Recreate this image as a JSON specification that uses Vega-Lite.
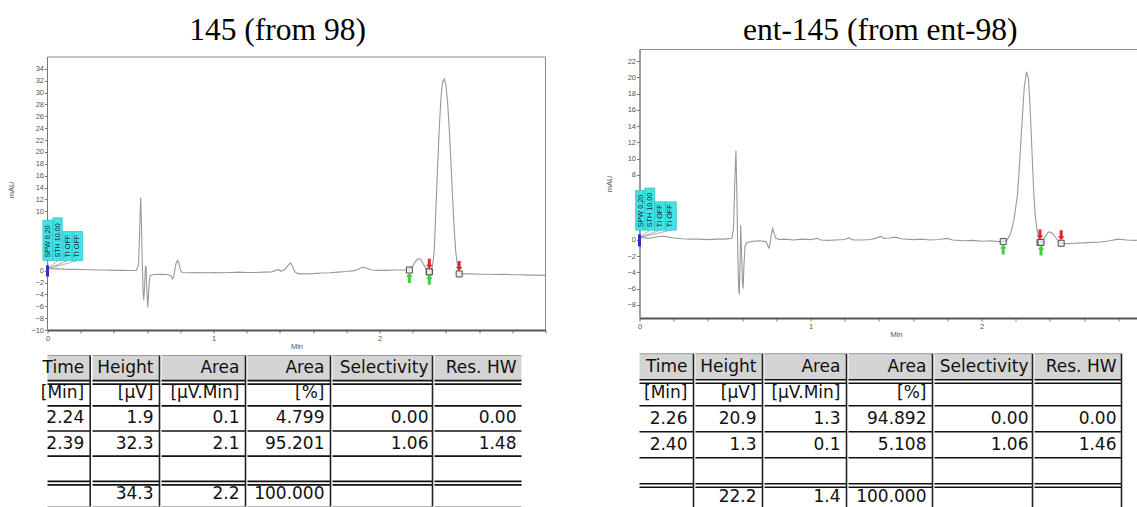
{
"$schema": "https://vega.github.io/schema/vega-lite/v6.json",
"background": "white",
"padding": {"left": 6.5, "top": 14, "right": 0, "bottom": 0},
"config": {
 "view": {"stroke": null},
 "font": "Liberation Sans",
 "axis": {"grid": false, "labelFont": "Liberation Sans", "labelFontSize": 7.5, "labelColor": "#555555", "tickColor": "#777777", "tickSize": 3, "tickWidth": 1, "domainColor": "#777777", "titleFont": "Liberation Sans", "titleFontSize": 7.5, "titleFontWeight": "normal", "titleColor": "#555555", "labelPadding": 1, "labelOverlap": false, "labelFlush": false},
 "axisX": {"domainWidth": 2, "domainColor": "#555555"}
},
"datasets": {
 "chrom1": [
{"t":0,"mAU":0.45},{"t":0.01,"mAU":0.35},{"t":0.03,"mAU":0.3},{"t":0.06,"mAU":0.3},{"t":0.1,"mAU":0.25},{"t":0.15,"mAU":0.22},{"t":0.2,"mAU":0.2},{"t":0.25,"mAU":0.15},{"t":0.3,"mAU":0.12},{"t":0.35,"mAU":0.1},{"t":0.4,"mAU":0.05},{"t":0.45,"mAU":0.05},{"t":0.5,"mAU":0.02},{"t":0.535,"mAU":0.05},
{"t":0.548,"mAU":1.0},{"t":0.555,"mAU":6.5},{"t":0.561,"mAU":12.3},{"t":0.566,"mAU":8.0},{"t":0.571,"mAU":1.0},{"t":0.576,"mAU":-3.5},{"t":0.58,"mAU":-5.0},{"t":0.585,"mAU":-2.5},{"t":0.59,"mAU":0.8},{"t":0.594,"mAU":0.5},{"t":0.598,"mAU":-3.0},{"t":0.604,"mAU":-6.2},{"t":0.609,"mAU":-4.0},{"t":0.614,"mAU":-1.5},{"t":0.62,"mAU":-0.8},
{"t":0.64,"mAU":-0.65},{"t":0.68,"mAU":-0.6},{"t":0.72,"mAU":-0.65},{"t":0.745,"mAU":-0.9},{"t":0.752,"mAU":-1.4},{"t":0.76,"mAU":-1.1},{"t":0.768,"mAU":0.3},{"t":0.776,"mAU":1.4},{"t":0.784,"mAU":1.7},{"t":0.792,"mAU":1.2},{"t":0.8,"mAU":0.2},{"t":0.81,"mAU":-0.3},
{"t":0.85,"mAU":-0.35},{"t":0.9,"mAU":-0.3},{"t":0.95,"mAU":-0.35},{"t":1.0,"mAU":-0.3},{"t":1.05,"mAU":-0.35},{"t":1.1,"mAU":-0.3},{"t":1.15,"mAU":-0.25},{"t":1.2,"mAU":-0.3},{"t":1.25,"mAU":-0.3},{"t":1.3,"mAU":-0.25},{"t":1.35,"mAU":-0.2},{"t":1.39,"mAU":0.2},{"t":1.405,"mAU":-0.1},{"t":1.43,"mAU":0.2},{"t":1.45,"mAU":0.9},{"t":1.463,"mAU":1.3},{"t":1.475,"mAU":0.8},{"t":1.49,"mAU":-0.2},{"t":1.51,"mAU":-0.5},{"t":1.55,"mAU":-0.55},{"t":1.6,"mAU":-0.5},{"t":1.65,"mAU":-0.4},{"t":1.7,"mAU":-0.35},{"t":1.75,"mAU":-0.25},{"t":1.8,"mAU":-0.15},{"t":1.85,"mAU":0.0},{"t":1.88,"mAU":0.35},{"t":1.9,"mAU":0.6},{"t":1.92,"mAU":0.45},{"t":1.95,"mAU":0.1},{"t":2.0,"mAU":0.05},{"t":2.05,"mAU":0.05},{"t":2.1,"mAU":0.1},{"t":2.15,"mAU":0.1},{"t":2.18,"mAU":0.15},
{"t":2.2,"mAU":0.7},{"t":2.215,"mAU":1.5},{"t":2.23,"mAU":1.95},{"t":2.24,"mAU":2.0},{"t":2.255,"mAU":1.6},{"t":2.27,"mAU":0.8},{"t":2.285,"mAU":0.1},{"t":2.3,"mAU":-0.2},
{"t":2.31,"mAU":0.1},{"t":2.32,"mAU":0.8},{"t":2.33,"mAU":3.5},{"t":2.34,"mAU":10.5},{"t":2.35,"mAU":17.5},{"t":2.36,"mAU":24.0},{"t":2.37,"mAU":29.0},{"t":2.38,"mAU":31.8},{"t":2.39,"mAU":32.3},{"t":2.4,"mAU":31.3},{"t":2.41,"mAU":28.5},{"t":2.42,"mAU":24.0},{"t":2.43,"mAU":18.5},{"t":2.44,"mAU":12.5},{"t":2.45,"mAU":7.0},{"t":2.46,"mAU":3.0},{"t":2.47,"mAU":0.8},{"t":2.48,"mAU":-0.3},{"t":2.5,"mAU":-0.55},{"t":2.55,"mAU":-0.55},{"t":2.6,"mAU":-0.6},{"t":2.65,"mAU":-0.6},{"t":2.7,"mAU":-0.65},{"t":2.75,"mAU":-0.6},{"t":2.8,"mAU":-0.7},{"t":2.85,"mAU":-0.7},{"t":2.9,"mAU":-0.75},{"t":2.95,"mAU":-0.75},{"t":3.0,"mAU":-0.8}
 ],
 "chrom2": [
{"t":0,"mAU":0.2},{"t":0.02,"mAU":0.3},{"t":0.05,"mAU":0.2},{"t":0.08,"mAU":0.3},{"t":0.11,"mAU":0.4},{"t":0.14,"mAU":0.45},{"t":0.17,"mAU":0.35},{"t":0.2,"mAU":0.25},{"t":0.25,"mAU":0.15},{"t":0.3,"mAU":0.1},{"t":0.35,"mAU":0.1},{"t":0.4,"mAU":0.05},{"t":0.45,"mAU":0.1},{"t":0.5,"mAU":0.1},{"t":0.54,"mAU":0.2},
{"t":0.55,"mAU":1.5},{"t":0.557,"mAU":7.0},{"t":0.564,"mAU":11.0},{"t":0.57,"mAU":5.0},{"t":0.575,"mAU":-2.0},{"t":0.58,"mAU":-6.0},{"t":0.584,"mAU":-6.7},{"t":0.588,"mAU":-3.0},{"t":0.592,"mAU":1.8},{"t":0.596,"mAU":-1.0},{"t":0.602,"mAU":-5.0},{"t":0.606,"mAU":-6.0},{"t":0.611,"mAU":-3.0},{"t":0.617,"mAU":-0.8},{"t":0.625,"mAU":-0.4},
{"t":0.65,"mAU":-0.2},{"t":0.7,"mAU":-0.1},{"t":0.74,"mAU":-0.2},{"t":0.75,"mAU":-0.7},{"t":0.757,"mAU":-1.0},{"t":0.765,"mAU":-0.3},{"t":0.772,"mAU":0.9},{"t":0.779,"mAU":1.4},{"t":0.787,"mAU":0.8},{"t":0.797,"mAU":0.2},{"t":0.82,"mAU":0.05},
{"t":0.85,"mAU":0.1},{"t":0.9,"mAU":0.0},{"t":0.95,"mAU":0.1},{"t":1.0,"mAU":0.05},{"t":1.04,"mAU":0.2},{"t":1.06,"mAU":0.0},{"t":1.1,"mAU":-0.05},{"t":1.15,"mAU":0.0},{"t":1.2,"mAU":0.05},{"t":1.224,"mAU":0.25},{"t":1.25,"mAU":0.0},{"t":1.3,"mAU":0.0},{"t":1.35,"mAU":0.05},{"t":1.38,"mAU":0.2},{"t":1.41,"mAU":0.45},{"t":1.43,"mAU":0.2},{"t":1.46,"mAU":0.25},{"t":1.497,"mAU":0.35},{"t":1.53,"mAU":0.15},{"t":1.6,"mAU":0.05},{"t":1.65,"mAU":0.1},{"t":1.7,"mAU":0.0},{"t":1.75,"mAU":0.05},{"t":1.8,"mAU":0.2},{"t":1.83,"mAU":0.0},{"t":1.9,"mAU":-0.1},{"t":1.95,"mAU":-0.05},{"t":2.0,"mAU":-0.15},{"t":2.05,"mAU":-0.1},{"t":2.1,"mAU":-0.2},{"t":2.127,"mAU":-0.2},
{"t":2.15,"mAU":0.0},{"t":2.17,"mAU":0.8},{"t":2.19,"mAU":2.5},{"t":2.21,"mAU":5.5},{"t":2.22,"mAU":8.5},{"t":2.23,"mAU":12.0},{"t":2.24,"mAU":15.5},{"t":2.25,"mAU":18.8},{"t":2.263,"mAU":20.7},{"t":2.275,"mAU":19.8},{"t":2.285,"mAU":16.0},{"t":2.295,"mAU":11.0},{"t":2.305,"mAU":6.0},{"t":2.315,"mAU":2.8},{"t":2.325,"mAU":1.2},{"t":2.335,"mAU":0.3},{"t":2.345,"mAU":-0.3},
{"t":2.36,"mAU":0.0},{"t":2.375,"mAU":0.5},{"t":2.39,"mAU":0.95},{"t":2.4,"mAU":1.0},{"t":2.415,"mAU":0.8},{"t":2.43,"mAU":0.4},{"t":2.445,"mAU":0.0},{"t":2.466,"mAU":-0.4},{"t":2.5,"mAU":-0.45},{"t":2.55,"mAU":-0.4},{"t":2.6,"mAU":-0.35},{"t":2.65,"mAU":-0.3},{"t":2.7,"mAU":-0.25},{"t":2.75,"mAU":-0.1},{"t":2.8,"mAU":0.1},{"t":2.85,"mAU":0.0},{"t":2.9,"mAU":-0.05},{"t":2.95,"mAU":0.0},{"t":3.0,"mAU":-0.1}
 ],
 "events1": [
  {"label":"SPW 0.20","t0":-0.028,"t1":0.032,"v0":1.7,"v1":8.5},
  {"label":"STH 10.00","t0":0.032,"t1":0.089,"v0":1.7,"v1":8.9},
  {"label":"TI OFF","t0":0.092,"t1":0.148,"v0":1.7,"v1":6.6},
  {"label":"TI OFF","t0":0.15,"t1":0.212,"v0":1.7,"v1":6.6}
 ],
 "events2": [
  {"label":"SPW 0.20","t0":-0.023,"t1":0.031,"v0":1.2,"v1":6.1},
  {"label":"STH 10.00","t0":0.031,"t1":0.089,"v0":1.2,"v1":6.4},
  {"label":"TI OFF","t0":0.089,"t1":0.152,"v0":1.2,"v1":4.7},
  {"label":"TI OFF","t0":0.152,"t1":0.216,"v0":1.2,"v1":4.7}
 ],
 "marks1": [
  {"t":2.18,"mAU":0.1,"kind":"start"},{"t":2.3,"mAU":-0.2,"kind":"end"},{"t":2.3,"mAU":-0.2,"kind":"start"},{"t":2.48,"mAU":-0.55,"kind":"end"}
 ],
 "marks2": [
  {"t":2.127,"mAU":-0.2,"kind":"start"},{"t":2.342,"mAU":-0.3,"kind":"end"},{"t":2.348,"mAU":-0.3,"kind":"start"},{"t":2.466,"mAU":-0.4,"kind":"end"}
 ],
 "table1": [
  {"row":"h","time":"Time","height":"Height","area":"Area","areaPct":"Area","sel":"Selectivity","res":"Res. HW"},
  {"row":"u","time":"[Min]","height":"[µV]","area":"[µV.Min]","areaPct":"[%]","sel":"","res":""},
  {"row":"1","time":"2.24","height":"1.9","area":"0.1","areaPct":"4.799","sel":"0.00","res":"0.00"},
  {"row":"2","time":"2.39","height":"32.3","area":"2.1","areaPct":"95.201","sel":"1.06","res":"1.48"},
  {"row":"b","time":"","height":"","area":"","areaPct":"","sel":"","res":""},
  {"row":"t","time":"","height":"34.3","area":"2.2","areaPct":"100.000","sel":"","res":""}
 ],
 "table2": [
  {"row":"h","time":"Time","height":"Height","area":"Area","areaPct":"Area","sel":"Selectivity","res":"Res. HW"},
  {"row":"u","time":"[Min]","height":"[µV]","area":"[µV.Min]","areaPct":"[%]","sel":"","res":""},
  {"row":"1","time":"2.26","height":"20.9","area":"1.3","areaPct":"94.892","sel":"0.00","res":"0.00"},
  {"row":"2","time":"2.40","height":"1.3","area":"0.1","areaPct":"5.108","sel":"1.06","res":"1.46"},
  {"row":"b","time":"","height":"","area":"","areaPct":"","sel":"","res":""},
  {"row":"t","time":"","height":"22.2","area":"1.4","areaPct":"100.000","sel":"","res":""}
 ]
},
"concat": [
 {"vconcat": [
  {"width": 498, "height": 281,
   "title": {"text": "145 (from 98)", "font": "Liberation Serif", "fontSize": 31.5, "fontWeight": "normal", "color": "#000000", "anchor": "middle", "frame": "bounds", "offset": 3},
   "resolve": {"axis": {"x": "independent", "y": "independent"}},
   "layer": [
    {"data": {"name": "chrom1"}, "mark": {"type": "line", "color": "#999999", "strokeWidth": 1.1},
     "encoding": {
      "x": {"field": "t", "type": "quantitative", "title": "Min", "scale": {"domain": [0, 3], "nice": false, "zero": false},
            "axis": {"values": [0,0.2,0.4,0.6,0.8,1,1.2,1.4,1.6,1.8,2,2.2,2.4,2.6,2.8,3], "labelExpr": "(datum.value === 0 || datum.value === 1 || datum.value === 2) ? '' + datum.value : ''", "titlePadding": 1, "labelOverlap": false}},
      "y": {"field": "mAU", "type": "quantitative", "title": "mAU", "scale": {"domain": [-10, 37.35], "nice": false, "zero": false},
            "axis": {"values": [-10,-8,-6,-4,-2,0,10,12,14,16,18,20,22,24,26,28,30,32,34], "titlePadding": 15.3, "labelOverlap": false, "domain": false}}
     }},
    {"data": {"name": "events1"}, "transform": [{"filter": "datum.label === 'SPW 0.20'"}], "mark": {"type": "rule", "color": "#8c8c8c", "strokeWidth": 1},
     "encoding": {"y": {"datum": 36, "axis": null}}},
    {"data": {"name": "events1"}, "transform": [{"filter": "datum.label === 'SPW 0.20'"}], "mark": {"type": "rule", "color": "#8c8c8c", "strokeWidth": 1},
     "encoding": {"x": {"datum": 3, "axis": null}, "y": {"datum": -10, "axis": null}, "y2": {"datum": 36}}},
    {"data": {"name": "events1"}, "transform": [{"filter": "datum.label === 'SPW 0.20'"}], "mark": {"type": "rule", "color": "#777777", "strokeWidth": 1},
     "encoding": {"x": {"datum": 0, "axis": null}, "y": {"datum": -10, "axis": null}, "y2": {"datum": 36}}},
    {"data": {"name": "events1"}, "mark": {"type": "rule", "color": "#9a9a9a", "strokeWidth": 0.8, "xOffset": 5},
     "encoding": {"x": {"field": "t0", "type": "quantitative", "axis": null}, "x2": {"datum": 0}, "y": {"field": "v0", "type": "quantitative", "axis": null}, "y2": {"datum": 0.3}}},
    {"data": {"name": "events1"}, "mark": {"type": "rect", "fill": "#40e4e4", "stroke": "#22b8b8", "strokeWidth": 0.6},
     "encoding": {"x": {"field": "t0", "type": "quantitative", "axis": null}, "x2": {"field": "t1"}, "y": {"field": "v0", "type": "quantitative", "axis": null}, "y2": {"field": "v1"}}},
    {"data": {"name": "events1"}, "mark": {"type": "text", "angle": 270, "align": "left", "baseline": "middle", "dx": 3, "dy": 5, "fontSize": 7.2, "font": "Liberation Sans", "color": "#122a44"},
     "encoding": {"x": {"field": "t0", "type": "quantitative", "axis": null}, "y": {"field": "v0", "type": "quantitative", "axis": null}, "text": {"field": "label"}}},
    {"data": {"name": "events1"}, "transform": [{"filter": "datum.label === 'SPW 0.20'"}], "mark": {"type": "rule", "color": "#2236c0", "strokeWidth": 3},
     "encoding": {"x": {"datum": 0, "axis": null}, "y": {"datum": -1.0, "axis": null}, "y2": {"datum": 0.9}}},
    {"data": {"name": "marks1"}, "mark": {"type": "point", "shape": "square", "size": 36, "filled": true, "fill": "#eeeeee", "fillOpacity": 0.7, "stroke": "#4a4a4a", "strokeWidth": 1, "opacity": 1},
     "encoding": {"x": {"field": "t", "type": "quantitative", "axis": null}, "y": {"field": "mAU", "type": "quantitative", "axis": null}}},
    {"data": {"name": "marks1"}, "transform": [{"filter": "datum.kind === 'end'"}], "mark": {"type": "point", "shape": "M-0.3,-1L0.3,-1L0.3,0.2L0.65,0.2L0,1L-0.65,0.2L-0.3,0.2Z", "size": 100, "filled": true, "color": "#e3222b", "opacity": 1, "strokeWidth": 0, "yOffset": -8},
     "encoding": {"x": {"field": "t", "type": "quantitative", "axis": null}, "y": {"field": "mAU", "type": "quantitative", "axis": null}}},
    {"data": {"name": "marks1"}, "transform": [{"filter": "datum.kind === 'start'"}], "mark": {"type": "point", "shape": "M-0.3,1L0.3,1L0.3,-0.2L0.65,-0.2L0,-1L-0.65,-0.2L-0.3,-0.2Z", "size": 100, "filled": true, "color": "#3bd13b", "opacity": 1, "strokeWidth": 0, "yOffset": 8},
     "encoding": {"x": {"field": "t", "type": "quantitative", "axis": null}, "y": {"field": "mAU", "type": "quantitative", "axis": null}}}
   ]},
  {"hconcat": [
   {"width": 42.7, "height": 151, "data": {"name": "table1"}, "layer": [
    {"transform":[{"filter":"datum.row === 'h'"}],"mark":{"type":"rect","color":"#d4d4d4"},"encoding":{"y":{"field":"row","type":"ordinal","scale":{"domain":["h","u","1","2","b","t"],"paddingInner":0,"paddingOuter":0},"axis":null}}},
    {"transform":[{"filter":"datum.row !== 'h'"}],"mark":{"type":"rule","color":"#111111","strokeWidth":1.6},"encoding":{"y":{"field":"row","type":"ordinal","bandPosition":0,"axis":null}}},
    {"transform":[{"filter":"datum.row === 'u' || datum.row === 't'"}],"mark":{"type":"rule","color":"#111111","strokeWidth":1.6,"yOffset":3.5},"encoding":{"y":{"field":"row","type":"ordinal","bandPosition":0,"axis":null}}},
    {"transform":[{"filter":"datum.row === 'h'"}],"mark":{"type":"rule","color":"#9a9a9a","strokeWidth":1},"encoding":{"y":{"field":"row","type":"ordinal","bandPosition":0,"axis":null}}},
    {"transform":[{"filter":"datum.row === 't'"}],"mark":{"type":"rule","color":"#b0b0b0","strokeWidth":1},"encoding":{"y":{"field":"row","type":"ordinal","bandPosition":1,"axis":null}}},
    {"transform":[{"filter":"datum.row === 'h'"}],"mark":{"type":"rule","color":"#222222","strokeWidth":1.6},"encoding":{"x":{"datum":1,"type":"quantitative","scale":{"domain":[0,1]},"axis":null}}},
    {"mark":{"type":"text","align":"right","baseline":"middle","dx":-6,"fontSize":17,"font":"DejaVu Sans","color":"#111111"},"encoding":{"y":{"field":"row","type":"ordinal","axis":null},"x":{"datum":1,"type":"quantitative","scale":{"domain":[0,1]},"axis":null},"text":{"field":"time"}}}
   ]},
   {"width": 67, "height": 151, "data": {"name": "table1"}, "layer": [
    {"transform":[{"filter":"datum.row === 'h'"}],"mark":{"type":"rect","color":"#d4d4d4"},"encoding":{"y":{"field":"row","type":"ordinal","scale":{"domain":["h","u","1","2","b","t"],"paddingInner":0,"paddingOuter":0},"axis":null}}},
    {"transform":[{"filter":"datum.row !== 'h'"}],"mark":{"type":"rule","color":"#111111","strokeWidth":1.6},"encoding":{"y":{"field":"row","type":"ordinal","bandPosition":0,"axis":null}}},
    {"transform":[{"filter":"datum.row === 'u' || datum.row === 't'"}],"mark":{"type":"rule","color":"#111111","strokeWidth":1.6,"yOffset":3.5},"encoding":{"y":{"field":"row","type":"ordinal","bandPosition":0,"axis":null}}},
    {"transform":[{"filter":"datum.row === 'h'"}],"mark":{"type":"rule","color":"#9a9a9a","strokeWidth":1},"encoding":{"y":{"field":"row","type":"ordinal","bandPosition":0,"axis":null}}},
    {"transform":[{"filter":"datum.row === 't'"}],"mark":{"type":"rule","color":"#b0b0b0","strokeWidth":1},"encoding":{"y":{"field":"row","type":"ordinal","bandPosition":1,"axis":null}}},
    {"transform":[{"filter":"datum.row === 'h'"}],"mark":{"type":"rule","color":"#222222","strokeWidth":1.6},"encoding":{"x":{"datum":1,"type":"quantitative","scale":{"domain":[0,1]},"axis":null}}},
    {"mark":{"type":"text","align":"right","baseline":"middle","dx":-6,"fontSize":17,"font":"DejaVu Sans","color":"#111111"},"encoding":{"y":{"field":"row","type":"ordinal","axis":null},"x":{"datum":1,"type":"quantitative","scale":{"domain":[0,1]},"axis":null},"text":{"field":"height"}}}
   ]},
   {"width": 84, "height": 151, "data": {"name": "table1"}, "layer": [
    {"transform":[{"filter":"datum.row === 'h'"}],"mark":{"type":"rect","color":"#d4d4d4"},"encoding":{"y":{"field":"row","type":"ordinal","scale":{"domain":["h","u","1","2","b","t"],"paddingInner":0,"paddingOuter":0},"axis":null}}},
    {"transform":[{"filter":"datum.row !== 'h'"}],"mark":{"type":"rule","color":"#111111","strokeWidth":1.6},"encoding":{"y":{"field":"row","type":"ordinal","bandPosition":0,"axis":null}}},
    {"transform":[{"filter":"datum.row === 'u' || datum.row === 't'"}],"mark":{"type":"rule","color":"#111111","strokeWidth":1.6,"yOffset":3.5},"encoding":{"y":{"field":"row","type":"ordinal","bandPosition":0,"axis":null}}},
    {"transform":[{"filter":"datum.row === 'h'"}],"mark":{"type":"rule","color":"#9a9a9a","strokeWidth":1},"encoding":{"y":{"field":"row","type":"ordinal","bandPosition":0,"axis":null}}},
    {"transform":[{"filter":"datum.row === 't'"}],"mark":{"type":"rule","color":"#b0b0b0","strokeWidth":1},"encoding":{"y":{"field":"row","type":"ordinal","bandPosition":1,"axis":null}}},
    {"transform":[{"filter":"datum.row === 'h'"}],"mark":{"type":"rule","color":"#222222","strokeWidth":1.6},"encoding":{"x":{"datum":1,"type":"quantitative","scale":{"domain":[0,1]},"axis":null}}},
    {"mark":{"type":"text","align":"right","baseline":"middle","dx":-6,"fontSize":17,"font":"DejaVu Sans","color":"#111111"},"encoding":{"y":{"field":"row","type":"ordinal","axis":null},"x":{"datum":1,"type":"quantitative","scale":{"domain":[0,1]},"axis":null},"text":{"field":"area"}}}
   ]},
   {"width": 83, "height": 151, "data": {"name": "table1"}, "layer": [
    {"transform":[{"filter":"datum.row === 'h'"}],"mark":{"type":"rect","color":"#d4d4d4"},"encoding":{"y":{"field":"row","type":"ordinal","scale":{"domain":["h","u","1","2","b","t"],"paddingInner":0,"paddingOuter":0},"axis":null}}},
    {"transform":[{"filter":"datum.row !== 'h'"}],"mark":{"type":"rule","color":"#111111","strokeWidth":1.6},"encoding":{"y":{"field":"row","type":"ordinal","bandPosition":0,"axis":null}}},
    {"transform":[{"filter":"datum.row === 'u' || datum.row === 't'"}],"mark":{"type":"rule","color":"#111111","strokeWidth":1.6,"yOffset":3.5},"encoding":{"y":{"field":"row","type":"ordinal","bandPosition":0,"axis":null}}},
    {"transform":[{"filter":"datum.row === 'h'"}],"mark":{"type":"rule","color":"#9a9a9a","strokeWidth":1},"encoding":{"y":{"field":"row","type":"ordinal","bandPosition":0,"axis":null}}},
    {"transform":[{"filter":"datum.row === 't'"}],"mark":{"type":"rule","color":"#b0b0b0","strokeWidth":1},"encoding":{"y":{"field":"row","type":"ordinal","bandPosition":1,"axis":null}}},
    {"transform":[{"filter":"datum.row === 'h'"}],"mark":{"type":"rule","color":"#222222","strokeWidth":1.6},"encoding":{"x":{"datum":1,"type":"quantitative","scale":{"domain":[0,1]},"axis":null}}},
    {"mark":{"type":"text","align":"right","baseline":"middle","dx":-6,"fontSize":17,"font":"DejaVu Sans","color":"#111111"},"encoding":{"y":{"field":"row","type":"ordinal","axis":null},"x":{"datum":1,"type":"quantitative","scale":{"domain":[0,1]},"axis":null},"text":{"field":"areaPct"}}}
   ]},
   {"width": 100, "height": 151, "data": {"name": "table1"}, "layer": [
    {"transform":[{"filter":"datum.row === 'h'"}],"mark":{"type":"rect","color":"#d4d4d4"},"encoding":{"y":{"field":"row","type":"ordinal","scale":{"domain":["h","u","1","2","b","t"],"paddingInner":0,"paddingOuter":0},"axis":null}}},
    {"transform":[{"filter":"datum.row !== 'h'"}],"mark":{"type":"rule","color":"#111111","strokeWidth":1.6},"encoding":{"y":{"field":"row","type":"ordinal","bandPosition":0,"axis":null}}},
    {"transform":[{"filter":"datum.row === 'u' || datum.row === 't'"}],"mark":{"type":"rule","color":"#111111","strokeWidth":1.6,"yOffset":3.5},"encoding":{"y":{"field":"row","type":"ordinal","bandPosition":0,"axis":null}}},
    {"transform":[{"filter":"datum.row === 'h'"}],"mark":{"type":"rule","color":"#9a9a9a","strokeWidth":1},"encoding":{"y":{"field":"row","type":"ordinal","bandPosition":0,"axis":null}}},
    {"transform":[{"filter":"datum.row === 't'"}],"mark":{"type":"rule","color":"#b0b0b0","strokeWidth":1},"encoding":{"y":{"field":"row","type":"ordinal","bandPosition":1,"axis":null}}},
    {"transform":[{"filter":"datum.row === 'h'"}],"mark":{"type":"rule","color":"#222222","strokeWidth":1.6},"encoding":{"x":{"datum":1,"type":"quantitative","scale":{"domain":[0,1]},"axis":null}}},
    {"mark":{"type":"text","align":"right","baseline":"middle","dx":-4,"fontSize":17,"font":"DejaVu Sans","color":"#111111"},"encoding":{"y":{"field":"row","type":"ordinal","axis":null},"x":{"datum":1,"type":"quantitative","scale":{"domain":[0,1]},"axis":null},"text":{"field":"sel"}}}
   ]},
   {"width": 87, "height": 151, "data": {"name": "table1"}, "layer": [
    {"transform":[{"filter":"datum.row === 'h'"}],"mark":{"type":"rect","color":"#d4d4d4"},"encoding":{"y":{"field":"row","type":"ordinal","scale":{"domain":["h","u","1","2","b","t"],"paddingInner":0,"paddingOuter":0},"axis":null}}},
    {"transform":[{"filter":"datum.row !== 'h'"}],"mark":{"type":"rule","color":"#111111","strokeWidth":1.6},"encoding":{"y":{"field":"row","type":"ordinal","bandPosition":0,"axis":null}}},
    {"transform":[{"filter":"datum.row === 'u' || datum.row === 't'"}],"mark":{"type":"rule","color":"#111111","strokeWidth":1.6,"yOffset":3.5},"encoding":{"y":{"field":"row","type":"ordinal","bandPosition":0,"axis":null}}},
    {"transform":[{"filter":"datum.row === 'h'"}],"mark":{"type":"rule","color":"#9a9a9a","strokeWidth":1},"encoding":{"y":{"field":"row","type":"ordinal","bandPosition":0,"axis":null}}},
    {"transform":[{"filter":"datum.row === 't'"}],"mark":{"type":"rule","color":"#b0b0b0","strokeWidth":1},"encoding":{"y":{"field":"row","type":"ordinal","bandPosition":1,"axis":null}}},
    {"mark":{"type":"text","align":"right","baseline":"middle","dx":-5,"fontSize":17,"font":"DejaVu Sans","color":"#111111"},"encoding":{"y":{"field":"row","type":"ordinal","axis":null},"x":{"datum":1,"type":"quantitative","scale":{"domain":[0,1]},"axis":null},"text":{"field":"res"}}}
   ]}
  ], "spacing": 0}
 ], "spacing": 4.5},
 {"vconcat": [
  {"width": 513, "height": 269,
   "view": {"stroke": "#8c8c8c", "strokeWidth": 1},
   "title": {"text": "ent-145 (from ent-98)", "font": "Liberation Serif", "fontSize": 31.5, "fontWeight": "normal", "color": "#000000", "anchor": "middle", "frame": "bounds", "offset": 3},
   "resolve": {"axis": {"x": "independent", "y": "independent"}},
   "layer": [
    {"data": {"name": "chrom2"}, "mark": {"type": "line", "color": "#999999", "strokeWidth": 1.1},
     "encoding": {
      "x": {"field": "t", "type": "quantitative", "title": "Min", "scale": {"domain": [0, 3], "nice": false, "zero": false},
            "axis": {"values": [0,0.2,0.4,0.6,0.8,1,1.2,1.4,1.6,1.8,2,2.2,2.4,2.6,2.8,3], "labelExpr": "(datum.value === 0 || datum.value === 1 || datum.value === 2) ? '' + datum.value : ''", "titlePadding": 1, "labelOverlap": false}},
      "y": {"field": "mAU", "type": "quantitative", "title": "mAU", "scale": {"domain": [-9.6, 23.5], "nice": false, "zero": false},
            "axis": {"values": [-8,-6,-4,-2,0,8,10,12,14,16,18,20,22], "titlePadding": 13.2, "labelOverlap": false}}
     }},
    {"data": {"name": "events2"}, "mark": {"type": "rule", "color": "#9a9a9a", "strokeWidth": 0.8, "xOffset": 5},
     "encoding": {"x": {"field": "t0", "type": "quantitative", "axis": null}, "x2": {"datum": 0}, "y": {"field": "v0", "type": "quantitative", "axis": null}, "y2": {"datum": 0.3}}},
    {"data": {"name": "events2"}, "mark": {"type": "rect", "fill": "#40e4e4", "stroke": "#22b8b8", "strokeWidth": 0.6},
     "encoding": {"x": {"field": "t0", "type": "quantitative", "axis": null}, "x2": {"field": "t1"}, "y": {"field": "v0", "type": "quantitative", "axis": null}, "y2": {"field": "v1"}}},
    {"data": {"name": "events2"}, "mark": {"type": "text", "angle": 270, "align": "left", "baseline": "middle", "dx": 3, "dy": 5, "fontSize": 7.2, "font": "Liberation Sans", "color": "#122a44"},
     "encoding": {"x": {"field": "t0", "type": "quantitative", "axis": null}, "y": {"field": "v0", "type": "quantitative", "axis": null}, "text": {"field": "label"}}},
    {"data": {"name": "events2"}, "transform": [{"filter": "datum.label === 'SPW 0.20'"}], "mark": {"type": "rule", "color": "#2236c0", "strokeWidth": 3},
     "encoding": {"x": {"datum": 0, "axis": null}, "y": {"datum": -0.8, "axis": null}, "y2": {"datum": 0.7}}},
    {"data": {"name": "marks2"}, "mark": {"type": "point", "shape": "square", "size": 36, "filled": true, "fill": "#eeeeee", "fillOpacity": 0.7, "stroke": "#4a4a4a", "strokeWidth": 1, "opacity": 1},
     "encoding": {"x": {"field": "t", "type": "quantitative", "axis": null}, "y": {"field": "mAU", "type": "quantitative", "axis": null}}},
    {"data": {"name": "marks2"}, "transform": [{"filter": "datum.kind === 'end'"}], "mark": {"type": "point", "shape": "M-0.3,-1L0.3,-1L0.3,0.2L0.65,0.2L0,1L-0.65,0.2L-0.3,0.2Z", "size": 100, "filled": true, "color": "#e3222b", "opacity": 1, "strokeWidth": 0, "yOffset": -8},
     "encoding": {"x": {"field": "t", "type": "quantitative", "axis": null}, "y": {"field": "mAU", "type": "quantitative", "axis": null}}},
    {"data": {"name": "marks2"}, "transform": [{"filter": "datum.kind === 'start'"}], "mark": {"type": "point", "shape": "M-0.3,1L0.3,1L0.3,-0.2L0.65,-0.2L0,-1L-0.65,-0.2L-0.3,-0.2Z", "size": 100, "filled": true, "color": "#3bd13b", "opacity": 1, "strokeWidth": 0, "yOffset": 8},
     "encoding": {"x": {"field": "t", "type": "quantitative", "axis": null}, "y": {"field": "mAU", "type": "quantitative", "axis": null}}}
   ]},
  {"hconcat": [
   {"width": 54, "height": 156, "data": {"name": "table2"}, "layer": [
    {"transform":[{"filter":"datum.row === 'h'"}],"mark":{"type":"rect","color":"#d4d4d4"},"encoding":{"y":{"field":"row","type":"ordinal","scale":{"domain":["h","u","1","2","b","t"],"paddingInner":0,"paddingOuter":0},"axis":null}}},
    {"transform":[{"filter":"datum.row !== 'h'"}],"mark":{"type":"rule","color":"#111111","strokeWidth":1.6},"encoding":{"y":{"field":"row","type":"ordinal","bandPosition":0,"axis":null}}},
    {"transform":[{"filter":"datum.row === 'u' || datum.row === 't'"}],"mark":{"type":"rule","color":"#111111","strokeWidth":1.6,"yOffset":3.5},"encoding":{"y":{"field":"row","type":"ordinal","bandPosition":0,"axis":null}}},
    {"transform":[{"filter":"datum.row === 'h'"}],"mark":{"type":"rule","color":"#9a9a9a","strokeWidth":1},"encoding":{"y":{"field":"row","type":"ordinal","bandPosition":0,"axis":null}}},
    {"transform":[{"filter":"datum.row === 'h'"}],"mark":{"type":"rule","color":"#222222","strokeWidth":1.6},"encoding":{"x":{"datum":1,"type":"quantitative","scale":{"domain":[0,1]},"axis":null}}},
    {"mark":{"type":"text","align":"right","baseline":"middle","dx":-6,"fontSize":17,"font":"DejaVu Sans","color":"#111111"},"encoding":{"y":{"field":"row","type":"ordinal","axis":null},"x":{"datum":1,"type":"quantitative","scale":{"domain":[0,1]},"axis":null},"text":{"field":"time"}}}
   ]},
   {"width": 67, "height": 156, "data": {"name": "table2"}, "layer": [
    {"transform":[{"filter":"datum.row === 'h'"}],"mark":{"type":"rect","color":"#d4d4d4"},"encoding":{"y":{"field":"row","type":"ordinal","scale":{"domain":["h","u","1","2","b","t"],"paddingInner":0,"paddingOuter":0},"axis":null}}},
    {"transform":[{"filter":"datum.row !== 'h'"}],"mark":{"type":"rule","color":"#111111","strokeWidth":1.6},"encoding":{"y":{"field":"row","type":"ordinal","bandPosition":0,"axis":null}}},
    {"transform":[{"filter":"datum.row === 'u' || datum.row === 't'"}],"mark":{"type":"rule","color":"#111111","strokeWidth":1.6,"yOffset":3.5},"encoding":{"y":{"field":"row","type":"ordinal","bandPosition":0,"axis":null}}},
    {"transform":[{"filter":"datum.row === 'h'"}],"mark":{"type":"rule","color":"#9a9a9a","strokeWidth":1},"encoding":{"y":{"field":"row","type":"ordinal","bandPosition":0,"axis":null}}},
    {"transform":[{"filter":"datum.row === 'h'"}],"mark":{"type":"rule","color":"#222222","strokeWidth":1.6},"encoding":{"x":{"datum":1,"type":"quantitative","scale":{"domain":[0,1]},"axis":null}}},
    {"mark":{"type":"text","align":"right","baseline":"middle","dx":-6,"fontSize":17,"font":"DejaVu Sans","color":"#111111"},"encoding":{"y":{"field":"row","type":"ordinal","axis":null},"x":{"datum":1,"type":"quantitative","scale":{"domain":[0,1]},"axis":null},"text":{"field":"height"}}}
   ]},
   {"width": 82, "height": 156, "data": {"name": "table2"}, "layer": [
    {"transform":[{"filter":"datum.row === 'h'"}],"mark":{"type":"rect","color":"#d4d4d4"},"encoding":{"y":{"field":"row","type":"ordinal","scale":{"domain":["h","u","1","2","b","t"],"paddingInner":0,"paddingOuter":0},"axis":null}}},
    {"transform":[{"filter":"datum.row !== 'h'"}],"mark":{"type":"rule","color":"#111111","strokeWidth":1.6},"encoding":{"y":{"field":"row","type":"ordinal","bandPosition":0,"axis":null}}},
    {"transform":[{"filter":"datum.row === 'u' || datum.row === 't'"}],"mark":{"type":"rule","color":"#111111","strokeWidth":1.6,"yOffset":3.5},"encoding":{"y":{"field":"row","type":"ordinal","bandPosition":0,"axis":null}}},
    {"transform":[{"filter":"datum.row === 'h'"}],"mark":{"type":"rule","color":"#9a9a9a","strokeWidth":1},"encoding":{"y":{"field":"row","type":"ordinal","bandPosition":0,"axis":null}}},
    {"transform":[{"filter":"datum.row === 'h'"}],"mark":{"type":"rule","color":"#222222","strokeWidth":1.6},"encoding":{"x":{"datum":1,"type":"quantitative","scale":{"domain":[0,1]},"axis":null}}},
    {"mark":{"type":"text","align":"right","baseline":"middle","dx":-6,"fontSize":17,"font":"DejaVu Sans","color":"#111111"},"encoding":{"y":{"field":"row","type":"ordinal","axis":null},"x":{"datum":1,"type":"quantitative","scale":{"domain":[0,1]},"axis":null},"text":{"field":"area"}}}
   ]},
   {"width": 84, "height": 156, "data": {"name": "table2"}, "layer": [
    {"transform":[{"filter":"datum.row === 'h'"}],"mark":{"type":"rect","color":"#d4d4d4"},"encoding":{"y":{"field":"row","type":"ordinal","scale":{"domain":["h","u","1","2","b","t"],"paddingInner":0,"paddingOuter":0},"axis":null}}},
    {"transform":[{"filter":"datum.row !== 'h'"}],"mark":{"type":"rule","color":"#111111","strokeWidth":1.6},"encoding":{"y":{"field":"row","type":"ordinal","bandPosition":0,"axis":null}}},
    {"transform":[{"filter":"datum.row === 'u' || datum.row === 't'"}],"mark":{"type":"rule","color":"#111111","strokeWidth":1.6,"yOffset":3.5},"encoding":{"y":{"field":"row","type":"ordinal","bandPosition":0,"axis":null}}},
    {"transform":[{"filter":"datum.row === 'h'"}],"mark":{"type":"rule","color":"#9a9a9a","strokeWidth":1},"encoding":{"y":{"field":"row","type":"ordinal","bandPosition":0,"axis":null}}},
    {"transform":[{"filter":"datum.row === 'h'"}],"mark":{"type":"rule","color":"#222222","strokeWidth":1.6},"encoding":{"x":{"datum":1,"type":"quantitative","scale":{"domain":[0,1]},"axis":null}}},
    {"mark":{"type":"text","align":"right","baseline":"middle","dx":-6,"fontSize":17,"font":"DejaVu Sans","color":"#111111"},"encoding":{"y":{"field":"row","type":"ordinal","axis":null},"x":{"datum":1,"type":"quantitative","scale":{"domain":[0,1]},"axis":null},"text":{"field":"areaPct"}}}
   ]},
   {"width": 98, "height": 156, "data": {"name": "table2"}, "layer": [
    {"transform":[{"filter":"datum.row === 'h'"}],"mark":{"type":"rect","color":"#d4d4d4"},"encoding":{"y":{"field":"row","type":"ordinal","scale":{"domain":["h","u","1","2","b","t"],"paddingInner":0,"paddingOuter":0},"axis":null}}},
    {"transform":[{"filter":"datum.row !== 'h'"}],"mark":{"type":"rule","color":"#111111","strokeWidth":1.6},"encoding":{"y":{"field":"row","type":"ordinal","bandPosition":0,"axis":null}}},
    {"transform":[{"filter":"datum.row === 'u' || datum.row === 't'"}],"mark":{"type":"rule","color":"#111111","strokeWidth":1.6,"yOffset":3.5},"encoding":{"y":{"field":"row","type":"ordinal","bandPosition":0,"axis":null}}},
    {"transform":[{"filter":"datum.row === 'h'"}],"mark":{"type":"rule","color":"#9a9a9a","strokeWidth":1},"encoding":{"y":{"field":"row","type":"ordinal","bandPosition":0,"axis":null}}},
    {"transform":[{"filter":"datum.row === 'h'"}],"mark":{"type":"rule","color":"#222222","strokeWidth":1.6},"encoding":{"x":{"datum":1,"type":"quantitative","scale":{"domain":[0,1]},"axis":null}}},
    {"mark":{"type":"text","align":"right","baseline":"middle","dx":-4,"fontSize":17,"font":"DejaVu Sans","color":"#111111"},"encoding":{"y":{"field":"row","type":"ordinal","axis":null},"x":{"datum":1,"type":"quantitative","scale":{"domain":[0,1]},"axis":null},"text":{"field":"sel"}}}
   ]},
   {"width": 87, "height": 156, "data": {"name": "table2"}, "layer": [
    {"transform":[{"filter":"datum.row === 'h'"}],"mark":{"type":"rect","color":"#d4d4d4"},"encoding":{"y":{"field":"row","type":"ordinal","scale":{"domain":["h","u","1","2","b","t"],"paddingInner":0,"paddingOuter":0},"axis":null}}},
    {"transform":[{"filter":"datum.row !== 'h'"}],"mark":{"type":"rule","color":"#111111","strokeWidth":1.6},"encoding":{"y":{"field":"row","type":"ordinal","bandPosition":0,"axis":null}}},
    {"transform":[{"filter":"datum.row === 'u' || datum.row === 't'"}],"mark":{"type":"rule","color":"#111111","strokeWidth":1.6,"yOffset":3.5},"encoding":{"y":{"field":"row","type":"ordinal","bandPosition":0,"axis":null}}},
    {"transform":[{"filter":"datum.row === 'h'"}],"mark":{"type":"rule","color":"#9a9a9a","strokeWidth":1},"encoding":{"y":{"field":"row","type":"ordinal","bandPosition":0,"axis":null}}},
    {"transform":[{"filter":"datum.row === 'h'"}],"mark":{"type":"rule","color":"#222222","strokeWidth":1.6},"encoding":{"x":{"datum":1,"type":"quantitative","scale":{"domain":[0,1]},"axis":null}}},
    {"mark":{"type":"text","align":"right","baseline":"middle","dx":-5,"fontSize":17,"font":"DejaVu Sans","color":"#111111"},"encoding":{"y":{"field":"row","type":"ordinal","axis":null},"x":{"datum":1,"type":"quantitative","scale":{"domain":[0,1]},"axis":null},"text":{"field":"res"}}}
   ]}
  ], "spacing": 0}
 ], "spacing": 13.7}
],
"columns": 2,
"align": "none",
"spacing": 56
}
